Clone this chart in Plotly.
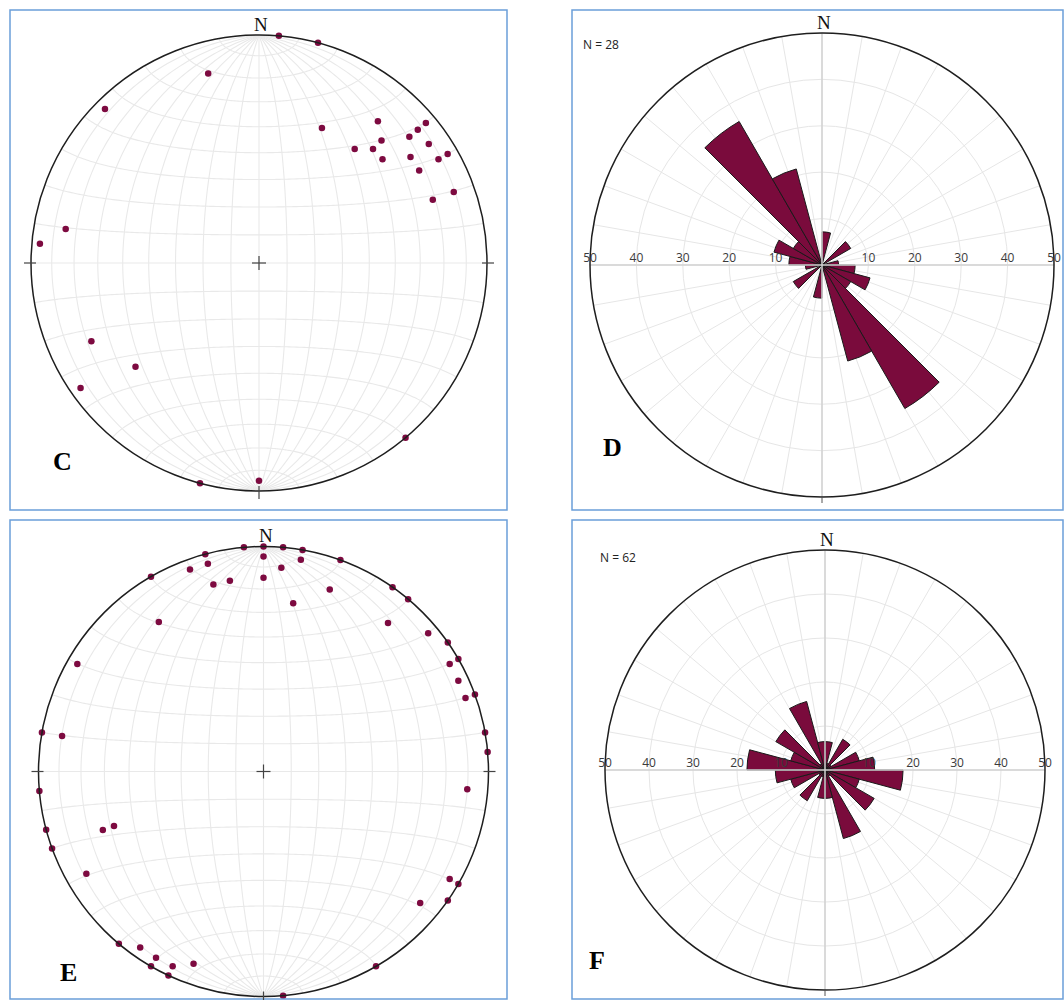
import numpy as np
import plotly.graph_objects as go

W, H = 1064, 1000

# ---------------- data ----------------
# Panel C: lower-hemisphere lines (trend, plunge) in degrees
c_trend = [5, 15, 345, 315, 280, 275, 25, 40, 50, 50, 50, 45, 55, 40, 45, 55, 50, 60, 60, 60,
           70, 70, 245, 230, 235, 195, 180, 140]
c_plunge = [0, 0, 15, 5, 15, 4, 35, 20, 5, 10, 15, 25, 10, 35, 30, 20, 30, 10, 5, 20,
            10, 20, 20, 30, 5, 0, 5, 0]

# Panel E
e_trend = [0, 355, 345, 345, 340, 330, 0, 0, 350, 345, 325, 300, 280, 280,
           5, 10, 10, 20, 5, 35, 40, 20, 10, 40, 50, 55, 60, 60, 65, 70, 70, 80, 85,
           265, 255, 250, 250, 250, 240, 220, 215, 210, 210, 205, 200, 205,
           95, 120, 120, 125, 130, 150, 175]
e_plunge = [0, 0, 0, 5, 5, 0, 5, 15, 15, 15, 20, 5, 0, 10,
            0, 0, 5, 0, 10, 0, 0, 15, 25, 15, 5, 0, 0, 5, 5, 0, 5, 0, 0,
            0, 0, 0, 25, 30, 10, 0, 5, 5, 0, 5, 10, 0,
            10, 5, 0, 0, 10, 0, 0]

# Rose diagrams: 15-degree bins (start azimuth), counts; plotted as percent of N
rose_bins = list(range(0, 360, 15))
d_counts = [2, 0, 0, 2, 0, 1, 2, 3, 2, 10, 6, 0,
            2, 0, 0, 2, 0, 1, 2, 3, 2, 10, 6, 0]
d_n = 28
f_counts = [4, 1, 5, 1, 5, 7, 11, 5, 8, 1, 10, 4,
            4, 1, 5, 1, 5, 7, 11, 5, 8, 1, 10, 4]
f_n = 62
rose_ticks = [10, 20, 30, 40, 50]

# ---------------- style ----------------
PT_COL = '#7d0a40'
BAR_COL = '#7a0b3c'
GRID = '#e9e9e9'
BORDER = '#6b9fd9'
SERIF = 'Liberation Serif'
SANS = 'Open Sans'

frames = {
    'C': dict(cx=259, cy=263, R=228),
    'D': dict(cx=822, cy=265, R=232),
    'E': dict(cx=263.5, cy=771.5, R=225),
    'F': dict(cx=825, cy=770, R=220),
}


def dom(f):
    return dict(x=[(f['cx'] - f['R']) / W, (f['cx'] + f['R']) / W],
                y=[1 - (f['cy'] + f['R']) / H, 1 - (f['cy'] - f['R']) / H])


def px(x, y):
    return x / W, 1 - y / H


def eqarea_r(plunge):
    p = np.radians(np.asarray(plunge, float))
    return np.sqrt(2) * np.sin((np.pi / 2 - p) / 2)


def proj_vec(x, y, z):
    d = np.sqrt(1 - z)
    X, Y = x / d, y / d
    return np.degrees(np.arctan2(X, Y)) % 360, np.hypot(X, Y)


def schmidt_grid():
    th_all, r_all = [], []
    t = np.linspace(0, np.pi, 181)
    # great circles (meridians) through N and S
    for dlt in range(10, 180, 10):
        d = np.radians(dlt)
        x = np.sin(t) * np.cos(d)
        y = np.cos(t)
        z = -np.sin(t) * np.sin(d)
        th, r = proj_vec(x, y, z)
        th_all += list(th) + [None]
        r_all += list(r) + [None]
    # small circles (latitudes) about the N-S axis
    for phi in range(-80, 90, 10):
        p = np.radians(phi)
        x = np.cos(p) * np.cos(t)
        y = np.full_like(t, np.sin(p))
        z = -np.cos(p) * np.sin(t)
        th, r = proj_vec(x, y, z)
        th_all += list(th) + [None]
        r_all += list(r) + [None]
    return th_all, r_all


fig = go.Figure()
gth, gr = schmidt_grid()

# ---------------- stereonets ----------------
for key, pol, tr, pl in [('C', 'polar', c_trend, c_plunge), ('E', 'polar3', e_trend, e_plunge)]:
    fig.add_trace(go.Scatterpolar(theta=gth, r=gr, mode='lines', subplot=pol,
                                  line=dict(color=GRID, width=1.1), hoverinfo='skip', showlegend=False))
    fig.add_trace(go.Scatterpolar(theta=tr, r=eqarea_r(pl), mode='markers', subplot=pol,
                                  marker=dict(color=PT_COL, size=6.5), cliponaxis=False,
                                  showlegend=False))

# ---------------- roses ----------------
for key, pol, counts, n in [('D', 'polar2', d_counts, d_n), ('F', 'polar4', f_counts, f_n)]:
    fig.add_trace(go.Scatterpolar(r=[50, 0, 50, None, 50, 0, 50], theta=[270, 270, 90, None, 0, 0, 180],
                                  mode='lines', subplot=pol, line=dict(color='#d2d2d2', width=1.5),
                                  hoverinfo='skip', showlegend=False))
    pct = [c / n * 100 for c in counts]
    fig.add_trace(go.Barpolar(r=pct, theta=[b + 7.5 for b in rose_bins], width=15, subplot=pol,
                              marker=dict(color=BAR_COL, line=dict(color='#1a1a1a', width=1)),
                              showlegend=False))
    fig.add_trace(go.Scatterpolar(r=rose_ticks + rose_ticks, theta=[270] * 5 + [90] * 5,
                                  text=[str(v) for v in rose_ticks] * 2, mode='text',
                                  textposition='top center', subplot=pol, cliponaxis=False,
                                  textfont=dict(family=SANS, size=12, color='#3a3a3a'),
                                  hoverinfo='skip', showlegend=False))


def stereo_polar(f):
    return dict(domain=dom(f), bgcolor='white',
                radialaxis=dict(range=[0, 1], visible=False),
                angularaxis=dict(rotation=90, direction='clockwise', showgrid=False,
                                 showticklabels=False, ticks='', showline=True,
                                 linecolor='#1e1e1e', linewidth=1.5))


def rose_polar(f):
    return dict(domain=dom(f), bgcolor='white',
                radialaxis=dict(range=[0, 50], tickvals=[10, 20, 30, 40], showticklabels=False,
                                ticks='', showline=False, gridcolor='#e6e6e6', gridwidth=1),
                angularaxis=dict(rotation=90, direction='clockwise', tick0=0, dtick=10,
                                 showticklabels=False, ticks='', gridcolor='#e6e6e6',
                                 showline=True, linecolor='#1e1e1e', linewidth=1.5))


shapes = []
# panel borders
for (x0, y0, x1, y1) in [(10, 10, 507, 510), (572, 10, 1063, 510), (10, 520, 507, 999), (572, 520, 1063, 999)]:
    a, b = px(x0, y0)
    c, d = px(x1, y1)
    shapes.append(dict(type='rect', xref='paper', yref='paper', x0=a, y0=d, x1=c, y1=b,
                       line=dict(color=BORDER, width=1.5)))


def seg(x0, y0, x1, y1, col='#444444', w=1.2):
    a, b = px(x0, y0)
    c, d = px(x1, y1)
    shapes.append(dict(type='line', xref='paper', yref='paper', x0=a, y0=b, x1=c, y1=d,
                       line=dict(color=col, width=w)))


for k in ['C', 'E']:
    f = frames[k]
    cx, cy, R = f['cx'], f['cy'], f['R']
    seg(cx - 7, cy, cx + 7, cy)
    seg(cx, cy - 7, cx, cy + 7)
    seg(cx - R - 7, cy, cx - R + 5, cy)
    seg(cx + R - 5, cy, cx + R + 7, cy)
    seg(cx, cy + R - 5, cx, cy + R + 8)
for k in ['D', 'F']:
    f = frames[k]
    cx, cy, R = f['cx'], f['cy'], f['R']
    seg(cx, cy + R, cx, cy + R + 6, '#555555', 1)

ann = []
for k in frames:
    f = frames[k]
    x, y = px(f['cx'] + 2, f['cy'] - f['R'] - 11)
    ann.append(dict(x=x, y=y, xref='paper', yref='paper', text='N', showarrow=False,
                    xanchor='center', yanchor='middle',
                    font=dict(family=SERIF, size=19, color='#111111')))
for lab, (x, y) in zip(['C', 'D', 'E', 'F'], [(62, 462), (612, 447), (68, 972), (597, 960)]):
    a, b = px(x, y)
    ann.append(dict(x=a, y=b, xref='paper', yref='paper', text='<b>%s</b>' % lab, showarrow=False,
                    xanchor='center', yanchor='middle',
                    font=dict(family=SERIF, size=26, color='#000000')))
for txt, (x, y) in [('N = %d' % d_n, (581, 44)), ('N = %d' % f_n, (598, 557))]:
    a, b = px(x, y)
    ann.append(dict(x=a, y=b, xref='paper', yref='paper', text=txt, showarrow=False,
                    xanchor='left', yanchor='middle',
                    font=dict(family=SANS, size=12, color='#222222')))

fig.update_layout(
    width=W, height=H, margin=dict(l=0, r=0, t=0, b=0),
    paper_bgcolor='white', plot_bgcolor='white',
    polar=stereo_polar(frames['C']),
    polar2=rose_polar(frames['D']),
    polar3=stereo_polar(frames['E']),
    polar4=rose_polar(frames['F']),
    shapes=shapes, annotations=ann, showlegend=False,
)

fig.write_html("out.html", config={'displayModeBar': False},
               post_script="document.body.style.margin='0px';")
